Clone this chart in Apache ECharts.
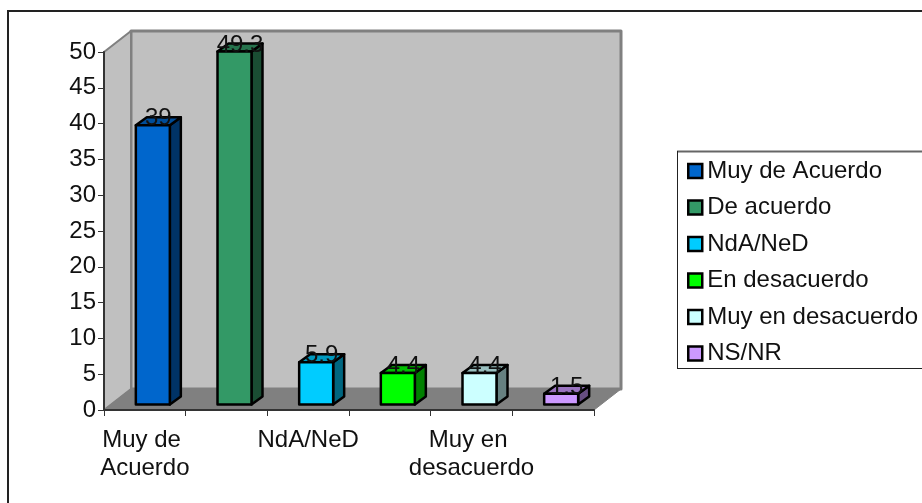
<!DOCTYPE html>
<html><head><meta charset="utf-8">
<style>html,body{margin:0;padding:0;background:#fff}#c{width:922px;height:503px}</style>
<script src="https://cdn.jsdelivr.net/npm/echarts@6/dist/echarts.min.js"></script>
</head><body><div id="c"></div>
<script>
const categories = ["Muy de Acuerdo","De acuerdo","NdA/NeD","En desacuerdo","Muy en desacuerdo","NS/NR"];
const values = [39, 49.3, 5.9, 4.4, 4.4, 1.5];
const colors = ["#0066cc","#339966","#00ccff","#00ff00","#ccffff","#cc99ff"];
const yTicks = {min:0, max:50, interval:5};

const FONT = '"Liberation Sans", Arial, sans-serif';
const WALL_DX = 27, WALL_DY = 21;
const BAR_DX = 11, BAR_DY = 8, BAR_OFF_X = 8, BAR_OFF_Y = 5.5, BAR_W = 34;

function shade(hex, f){
  const n = parseInt(hex.slice(1),16);
  const c = s => Math.round(((n>>s)&255)*f);
  return 'rgb('+c(16)+','+c(8)+','+c(0)+')';
}
function poly(points, fill, stroke, lw){
  return {type:'polygon', shape:{points}, style:{fill, stroke, lineWidth:lw, lineJoin:'round'}};
}
function renderWalls(params, api){
  const cs = params.coordSys;
  const x0 = cs.x, x1 = cs.x + cs.width, top = cs.y, bot = cs.y + cs.height;
  const d = WALL_DX, h = WALL_DY;
  return {type:'group', silent:true, children:[
    poly([[x0+d,top-h],[x1+d,top-h],[x1+d,bot-h],[x0+d,bot-h]], '#c0c0c0', '#808080', 3),
    poly([[x0,top],[x0+d,top-h],[x0+d,bot-h],[x0,bot]], '#c0c0c0', '#808080', 2),
    poly([[x0,bot],[x0+d,bot-h],[x1+d,bot-h],[x1,bot]], '#808080', '#808080', 1)
  ]};
}
function renderBar(params, api){
  const top = api.coord([api.value(0), api.value(1)]);
  const base = api.coord([api.value(0), 0]);
  const color = api.visual('color');
  const l = top[0] - BAR_W/2 + BAR_OFF_X, r = l + BAR_W;
  const t = top[1] - BAR_OFF_Y, b = base[1] - BAR_OFF_Y;
  const dx = BAR_DX, dy = BAR_DY;
  return {type:'group', children:[
    poly([[r,t],[r+dx,t-dy],[r+dx,b-dy],[r,b]], shade(color,0.5), '#000', 2.5),
    poly([[l,t],[l+dx,t-dy],[r+dx,t-dy],[r,t]], shade(color,0.75), '#000', 2.5),
    poly([[l,t],[r,t],[r,b],[l,b]], color, '#000', 2.5),
    {type:'text', z2:10, style:{
      text:String(api.value(1)), x:(l+r+dx)/2, y:t-dy/2-2.5,
      align:'center', verticalAlign:'middle', fill:'#111',
      font:'24px '+FONT}}
  ]};
}
const series = [{
  type:'custom', name:'__walls', data:[[0,0]], renderItem:renderWalls, silent:true, z:1, clip:false,
  encode:{x:0,y:1}
}].concat(categories.map((name,i)=>({
  type:'custom', name, z:5+i, clip:false,
  data:[[i, values[i]]], encode:{x:0,y:1},
  renderItem:renderBar,
  itemStyle:{color:colors[i], borderColor:'#000', borderWidth:2}
})));

const chart = echarts.init(document.getElementById('c'), null, {renderer:'canvas'});
chart.setOption({
  animation:false,
  backgroundColor:'#fff',
  graphic:[
    {type:'line', z:-1, shape:{x1:7,y1:11,x2:922,y2:11}, style:{stroke:'#222',lineWidth:2}},
    {type:'line', z:-1, shape:{x1:8,y1:10,x2:8,y2:503}, style:{stroke:'#222',lineWidth:2}},
    {type:'line', z:-1, shape:{x1:677,y1:151.5,x2:922,y2:151.5}, style:{stroke:'#666',lineWidth:2}},
    {type:'line', z:-1, shape:{x1:677.5,y1:151,x2:677.5,y2:369}, style:{stroke:'#222',lineWidth:1}},
    {type:'line', z:-1, shape:{x1:677,y1:368.5,x2:922,y2:368.5}, style:{stroke:'#222',lineWidth:1}}
  ],
  grid:{left:104, top:52, width:490, height:358, containLabel:false},
  xAxis:{
    type:'category', data:categories, z:4,
    axisLine:{lineStyle:{color:'#333',width:2}},
    axisTick:{show:true,interval:0,length:6,lineStyle:{color:'#333',width:1}},
    axisLabel:{interval:1, color:'#111', fontFamily:FONT, fontSize:24, lineHeight:28, margin:16,
      width:150, overflow:'break', hideOverlap:false}
  },
  yAxis:{
    type:'value', min:yTicks.min, max:yTicks.max, interval:yTicks.interval, z:4,
    splitLine:{show:false},
    axisLine:{show:true,lineStyle:{color:'#333',width:2}},
    axisTick:{show:true,length:6,lineStyle:{color:'#333',width:1}},
    axisLabel:{color:'#111', fontFamily:FONT, fontSize:24, margin:8}
  },
  legend:{
    data:categories.map(name=>({name, icon:'rect'})),
    orient:'vertical', left:687, top:159, padding:0,
    itemWidth:14, itemHeight:14, itemGap:12.5,
    textStyle:{color:'#111', fontFamily:FONT, fontSize:24, padding:[0,0,0,0], lineHeight:24},
    itemStyle:{borderColor:'#000',borderWidth:2.5},
    selectedMode:false
  },
  series
});
</script></body></html>
